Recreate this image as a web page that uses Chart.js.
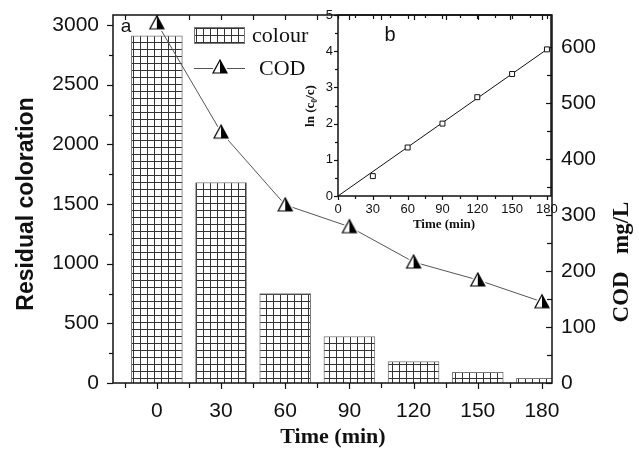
<!DOCTYPE html>
<html>
<head>
<meta charset="utf-8">
<script src="https://cdn.jsdelivr.net/npm/chart.js@4.4.1/dist/chart.umd.min.js"></script>
<style>
html, body { margin: 0; padding: 0; background: #fff; }
#wrap { position: relative; width: 639px; height: 461px; }
#main { position: absolute; left: 0; top: 0; }
#inset { position: absolute; left: 290px; top: 0; }
</style>
</head>
<body>
<div id="wrap">
  <canvas id="main" width="639" height="461"></canvas>
  <canvas id="inset" width="270" height="240"></canvas>
</div>
<script>
// --- DATA ---
const times = [0, 30, 60, 90, 120, 150, 180];
const colourValues = [2910, 1680, 750, 390, 180, 90, 40];
const codValues = [643, 448, 318, 279, 216, 184, 145];

const insetTimes = [30, 60, 90, 120, 150, 180];
const lnValues = [0.55, 1.34, 2.0, 2.73, 3.37, 4.05];
const fitTimes = [0, 180];
const fitValues = [0, 4.05];

const timeTicks = [0, 30, 60, 90, 120, 150, 180];
const colourTicks = [0, 500, 1000, 1500, 2000, 2500, 3000];
const codTicks = [0, 100, 200, 300, 400, 500, 600];
const insetYTicks = [0, 1, 2, 3, 4, 5];

const SANS = '"Liberation Sans", Arial, sans-serif';
const SERIF = '"Liberation Serif", "Times New Roman", serif';

// --- MARKERS / PATTERN ---
const mainCtx = document.getElementById('main').getContext('2d');

function makeGridPattern() {
    const c = document.createElement('canvas');
    c.width = 7; c.height = 7;
    const g = c.getContext('2d');
    g.fillStyle = '#fff';
    g.fillRect(0, 0, 7, 7);
    g.fillStyle = '#333';
    g.fillRect(0, 0, 7, 1);
    g.fillRect(0, 0, 1, 7);
    return mainCtx.createPattern(c, 'repeat');
}
const gridPattern = makeGridPattern();

function makeTriangle() {
    const c = document.createElement('canvas');
    c.width = 20; c.height = 18;
    const g = c.getContext('2d');
    const top = [10, 2], l = [3, 15], r = [17, 15];
    // white halo so the line stops short of the marker
    g.beginPath(); g.moveTo(...top); g.lineTo(...l); g.lineTo(...r); g.closePath();
    g.strokeStyle = '#fff'; g.lineWidth = 4; g.stroke();
    g.beginPath(); g.moveTo(...top); g.lineTo(...l); g.lineTo(10, 15); g.closePath();
    g.fillStyle = '#fff'; g.fill();
    g.beginPath(); g.moveTo(...top); g.lineTo(10, 15); g.lineTo(...r); g.closePath();
    g.fillStyle = '#000'; g.fill();
    g.beginPath(); g.moveTo(...top); g.lineTo(...l); g.lineTo(...r); g.closePath();
    g.strokeStyle = '#000'; g.lineWidth = 1.2; g.stroke();
    return c;
}
const triangle = makeTriangle();

// --- FRAME + TICKS PLUGIN ---
function midpoints(vals, extraBefore) {
    const out = [];
    const step = vals[1] - vals[0];
    if (extraBefore) out.push(vals[0] - step / 2);
    for (let i = 0; i < vals.length - 1; i++) out.push((vals[i] + vals[i + 1]) / 2);
    return out;
}

function tickSet(ctx, scale, values, len, edge, dir, horizontal) {
    values.forEach(v => {
        const p = Math.round(scale.getPixelForValue(v)) + 0.5;
        if (horizontal && (p < scale.left - 1 || p > scale.right + 1)) return;
        if (!horizontal && (p < scale.top - 1 || p > scale.bottom + 1)) return;
        ctx.beginPath();
        if (horizontal) { ctx.moveTo(p, edge); ctx.lineTo(p, edge + dir * len); }
        else { ctx.moveTo(edge, p); ctx.lineTo(edge + dir * len, p); }
        ctx.stroke();
    });
}

const framePlugin = {
    id: 'frame',
    afterDatasetsDraw(chart, args, opts) {
        const { ctx, chartArea: a } = chart;
        ctx.save();
        ctx.strokeStyle = '#111';
        ctx.lineWidth = 1.5;
        ctx.strokeRect(a.left, a.top, a.right - a.left, a.bottom - a.top);
        ctx.lineWidth = 1.2;
        opts.ticks.forEach(t => {
            const scale = chart.scales[t.scale];
            const horiz = t.side === 'bottom' || t.side === 'top';
            const edge = { bottom: a.bottom, top: a.top, left: a.left, right: a.right }[t.side];
            const outward = { bottom: 1, top: -1, left: -1, right: 1 }[t.side];
            const dir = t.inward ? -outward : outward;
            tickSet(ctx, scale, t.major, t.majorLen, edge, dir, horiz);
            tickSet(ctx, scale, t.minor, t.minorLen, edge, dir, horiz);
        });
        ctx.restore();
    }
};

// --- TEXT PLUGINS ---
function rotatedText(ctx, text, x, y, font) {
    ctx.save();
    ctx.translate(x, y);
    ctx.rotate(-Math.PI / 2);
    ctx.font = font;
    ctx.textAlign = 'center';
    ctx.textBaseline = 'middle';
    ctx.fillText(text, 0, 0);
    ctx.restore();
}

const mainTextPlugin = {
    id: 'mainText',
    afterDraw(chart) {
        const ctx = chart.ctx;
        ctx.save();
        ctx.fillStyle = '#111';
        rotatedText(ctx, 'Residual coloration', 27, 204, 'bold 23px ' + SANS);
        rotatedText(ctx, 'COD   mg/L', 622, 262, 'bold 23px ' + SERIF);
        ctx.font = 'bold 22px ' + SERIF;
        ctx.textAlign = 'center';
        ctx.textBaseline = 'middle';
        ctx.fillText('Time (min)', 333, 437);
        ctx.font = '19px ' + SANS;
        ctx.fillText('a', 126, 27);

        // legend
        ctx.fillStyle = gridPattern;
        ctx.fillRect(194, 27, 50, 16);
        ctx.strokeStyle = '#777';
        ctx.lineWidth = 1;
        ctx.strokeRect(194.5, 27.5, 50, 16);
        ctx.strokeStyle = '#555';
        ctx.beginPath(); ctx.moveTo(194, 68.5); ctx.lineTo(245, 68.5); ctx.stroke();
        ctx.drawImage(triangle, 220 - 10, 68 - 10);
        ctx.fillStyle = '#111';
        ctx.font = '22px ' + SERIF;
        ctx.textAlign = 'left';
        ctx.fillText('colour', 252, 36);
        ctx.fillText('COD', 259, 69);
        ctx.restore();
    }
};

const insetTextPlugin = {
    id: 'insetText',
    afterDraw(chart) {
        const ctx = chart.ctx;
        ctx.save();
        ctx.fillStyle = '#111';
        rotatedText(ctx, 'ln (c\u2080/c)', 21, 106, 'bold 13px ' + SERIF);
        ctx.font = 'bold 13px ' + SERIF;
        ctx.textAlign = 'center';
        ctx.textBaseline = 'middle';
        ctx.fillText('Time (min)', 154, 225);
        ctx.font = '20px ' + SANS;
        ctx.fillText('b', 100, 35);
        ctx.restore();
    }
};

function fixedTicks(vals) {
    return scale => { scale.ticks = vals.map(v => ({ value: v })); };
}
function fitWidth(w) {
    return s => { s.width = w; s.paddingTop = 0; s.paddingBottom = 0; };
}
function fitHeight(h) {
    return s => { s.height = h; s.paddingLeft = 0; s.paddingRight = 0; };
}
const plain = v => String(v);

// --- MAIN CHART ---
new Chart(mainCtx, {
    type: 'bar',
    data: {
        datasets: [
            {
                type: 'line',
                label: 'COD',
                data: times.map((t, i) => ({ x: t, y: codValues[i] })),
                yAxisID: 'y1',
                borderColor: '#555',
                borderWidth: 1,
                pointStyle: triangle,
                pointRadius: 8,
                order: 0,
                clip: false
            },
            {
                label: 'colour',
                data: times.map((t, i) => ({ x: t, y: colourValues[i] })),
                yAxisID: 'y',
                backgroundColor: gridPattern,
                borderColor: '#777',
                borderWidth: 1,
                barThickness: 51,
                order: 1
            }
        ]
    },
    options: {
        responsive: false,
        animation: false,
        layout: { padding: { top: 15, left: 0, right: 0, bottom: 0 } },
        plugins: {
            legend: { display: false },
            tooltip: { enabled: false },
            frame: {
                ticks: [
                    { scale: 'x', side: 'bottom', major: timeTicks, minor: midpoints(timeTicks, true), majorLen: 6, minorLen: 5 },
                    { scale: 'x', side: 'top', inward: true, major: timeTicks, minor: midpoints(timeTicks, true), majorLen: 5, minorLen: 5 },
                    { scale: 'y', side: 'left', major: colourTicks, minor: midpoints(colourTicks), majorLen: 6, minorLen: 4 },
                    { scale: 'y1', side: 'right', inward: true, major: codTicks, minor: midpoints(codTicks), majorLen: 6, minorLen: 5 }
                ]
            }
        },
        scales: {
            x: {
                type: 'linear',
                offset: false,
                min: -20.5,
                max: 184.7,
                afterBuildTicks: fixedTicks(timeTicks),
                afterFit: fitHeight(78),
                grid: { display: false, drawTicks: false, offset: false },
                border: { display: false },
                ticks: { color: '#111', font: { family: SANS, size: 21 }, padding: 16, maxRotation: 0, callback: plain }
            },
            y: {
                position: 'left',
                min: 0,
                max: 3084,
                afterBuildTicks: fixedTicks(colourTicks),
                afterFit: fitWidth(113),
                grid: { display: false, drawTicks: false },
                border: { display: false },
                ticks: { color: '#111', font: { family: SANS, size: 21 }, padding: 14, callback: plain }
            },
            y1: {
                position: 'right',
                min: 0,
                max: 657,
                afterBuildTicks: fixedTicks(codTicks),
                afterFit: fitWidth(87),
                grid: { display: false, drawTicks: false },
                border: { display: false },
                ticks: { color: '#111', font: { family: SANS, size: 21 }, padding: 9, callback: plain }
            }
        }
    },
    plugins: [framePlugin, mainTextPlugin]
});

// --- INSET CHART ---
new Chart(document.getElementById('inset'), {
    type: 'scatter',
    data: {
        datasets: [
            {
                data: insetTimes.map((t, i) => ({ x: t, y: lnValues[i] })),
                pointStyle: 'rect',
                pointRadius: 3.5,
                backgroundColor: '#fff',
                borderColor: '#111',
                borderWidth: 1,
                showLine: false,
                order: 0
            },
            {
                data: fitTimes.map((t, i) => ({ x: t, y: fitValues[i] })),
                showLine: true,
                pointRadius: 0,
                borderColor: '#111',
                borderWidth: 1,
                order: 1
            }
        ]
    },
    options: {
        responsive: false,
        animation: false,
        layout: { padding: { top: 15, left: 0, right: 9, bottom: 0 } },
        plugins: {
            legend: { display: false },
            tooltip: { enabled: false },
            frame: {
                ticks: [
                    { scale: 'x', side: 'bottom', major: timeTicks, minor: midpoints(timeTicks), majorLen: 4, minorLen: 3 },
                    { scale: 'x', side: 'top', inward: true, major: timeTicks, minor: midpoints(timeTicks), majorLen: 4, minorLen: 3 },
                    { scale: 'y', side: 'left', major: insetYTicks, minor: midpoints(insetYTicks), majorLen: 4, minorLen: 3 }
                ]
            }
        },
        scales: {
            x: {
                type: 'linear',
                min: 0,
                max: 183.5,
                afterBuildTicks: fixedTicks(timeTicks),
                afterFit: fitHeight(44),
                grid: { display: false, drawTicks: false },
                border: { display: false },
                ticks: { color: '#111', font: { family: SANS, size: 13 }, padding: 6, maxRotation: 0 }
            },
            y: {
                min: 0,
                max: 5,
                afterBuildTicks: fixedTicks(insetYTicks),
                afterFit: fitWidth(48),
                grid: { display: false, drawTicks: false },
                border: { display: false },
                ticks: { color: '#111', font: { family: SANS, size: 13 }, padding: 5 }
            }
        }
    },
    plugins: [framePlugin, insetTextPlugin]
});
</script>
</body>
</html>
